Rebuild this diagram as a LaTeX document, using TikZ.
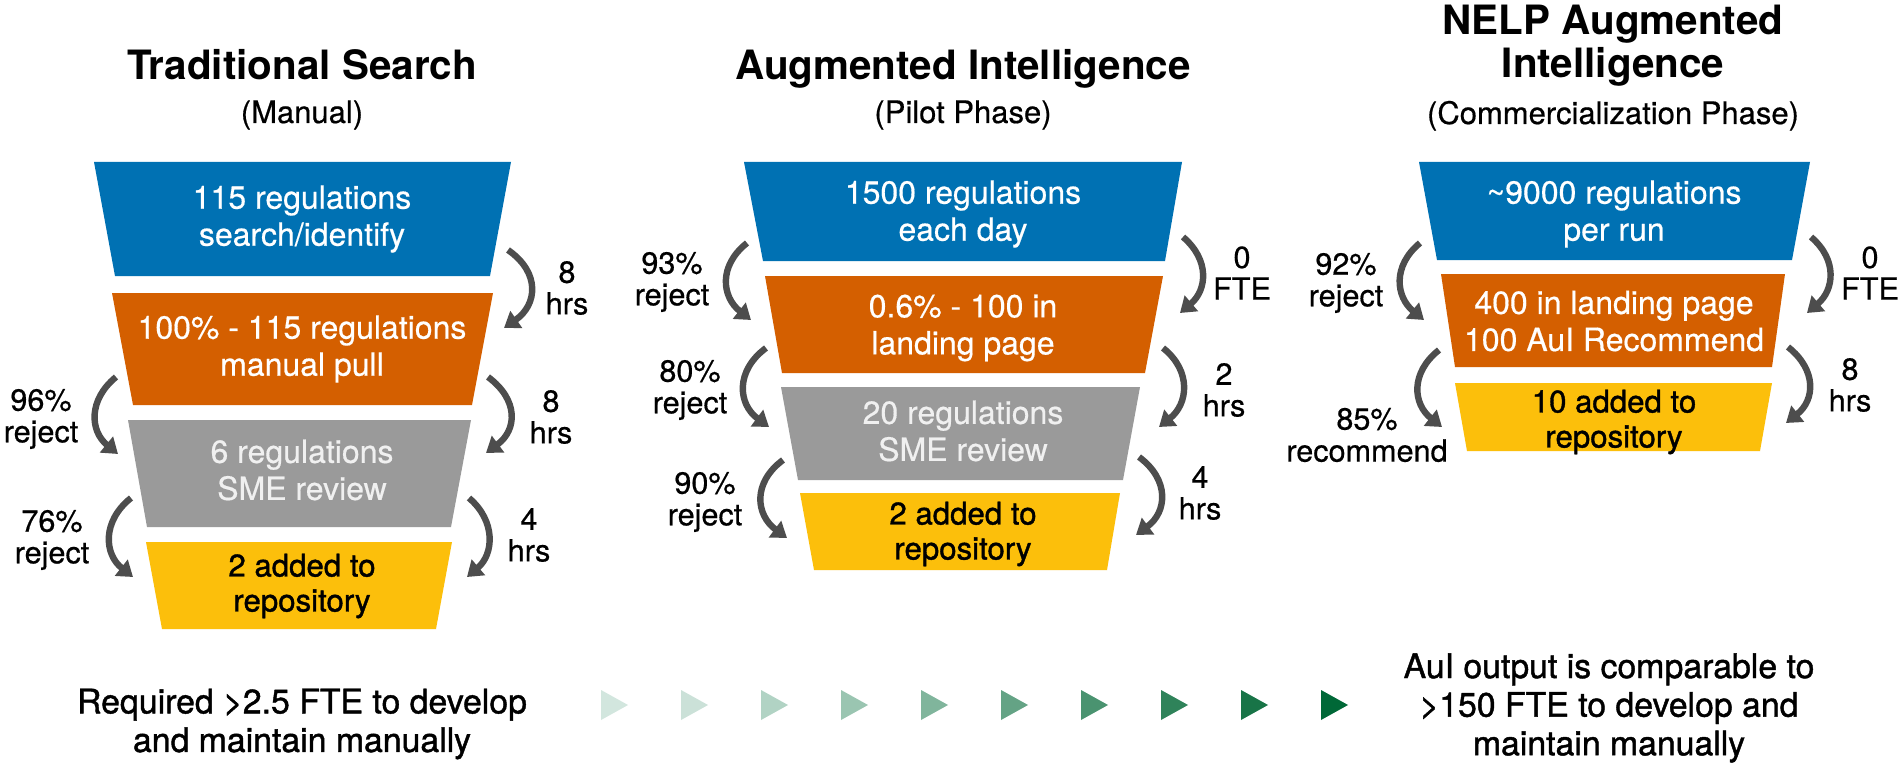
\documentclass[tikz,border=0pt]{standalone}
\usepackage{fontspec}
\setmainfont{TeX Gyre Heros}
\newfontfamily\medfont[FakeBold=1.2]{TeX Gyre Heros}
\newfontfamily\regfont[FakeBold=0.5]{TeX Gyre Heros}
\usetikzlibrary{arrows.meta}
\definecolor{boxblue}{HTML}{0071B3}
\definecolor{boxorange}{HTML}{D45F00}
\definecolor{boxgray}{HTML}{9A9A9A}
\definecolor{boxyellow}{HTML}{FCBF0B}
\definecolor{arrowgray}{HTML}{4D4D4D}
\definecolor{graytext}{HTML}{F0F0F0}
\definecolor{triA}{HTML}{D2E6DE}
\definecolor{triB}{HTML}{CBE1D8}
\definecolor{triC}{HTML}{B1D3C4}
\definecolor{triD}{HTML}{9AC5B1}
\definecolor{triE}{HTML}{80B59C}
\definecolor{triF}{HTML}{64A385}
\definecolor{triG}{HTML}{4A9370}
\definecolor{triH}{HTML}{2F835A}
\definecolor{triI}{HTML}{187447}
\definecolor{triJ}{HTML}{006837}
\tikzset{
  titletxt/.style={font=\bfseries\fontsize{20.2}{22}\selectfont, anchor=base, inner sep=0pt},
  subtxt/.style={font=\regfont\fontsize{15.5}{18}\selectfont, anchor=base, inner sep=0pt},
  boxtxt/.style={font=\regfont\fontsize{16}{18.5}\selectfont, align=center, text=white, inner sep=0pt},
  darkboxtxt/.style={font=\medfont\fontsize{15.6}{17.5}\selectfont, align=center, text=black, inner sep=0pt},
  lbl/.style={font=\regfont\fontsize{15.3}{15.8}\selectfont, align=center, inner sep=0pt},
  notetxt/.style={font=\medfont\fontsize{16.9}{19.3}\selectfont, align=center, inner sep=0pt},
  flow/.style={line width=3.2pt, draw=arrowgray, -{Triangle[width=10pt,length=7.5pt]}}
}
\newcommand{\bendarrow}[3]{\draw[flow] (#1) .. controls ([shift={(#3,23)}]#1) and ([shift={(#3,-23)}]#2) .. (#2);}
\begin{document}
\begin{tikzpicture}[x=0.5pt,y=-0.5pt]
\fill[white] (0,0) rectangle (1902,765);
\useasboundingbox (0,0) rectangle (1902,765);

% ---------- titles ----------
\node[titletxt] (t1) at (302,80) {Traditional Search};
\node[subtxt] (s1) at (302,123) {(Manual)};
\node[titletxt] (t2) at (963,80) {Augmented Intelligence};
\node[subtxt] (s2) at (963,123) {(Pilot Phase)};
\node[titletxt] (t3a) at (1613,35) {NELP Augmented};
\node[titletxt] (t3b) at (1613,78) {Intelligence};
\node[subtxt] (s3) at (1613,124) {(Commercialization Phase)};

% ---------- left funnel ----------
\fill[boxblue] (94,162) -- (511,162) -- (490,276) -- (115,276) -- cycle;
\fill[boxorange] (112,293) -- (493,293) -- (472,405) -- (133,405) -- cycle;
\fill[boxgray] (128,420) -- (471,420) -- (451,527) -- (147,527) -- cycle;
\fill[boxyellow] (146,542) -- (452,542) -- (436,629) -- (162,629) -- cycle;
\node[boxtxt] (b1) at (302,219) {115 regulations\\search/identify};
\node[boxtxt] (o1) at (302,349) {100\% - 115 regulations\\manual pull};
\node[boxtxt, text=graytext] (g1) at (302,470) {6 regulations\\SME review};
\node[darkboxtxt] (y1) at (302,586) {2 added to\\repository};

\coordinate (aR1s) at (508,250); \coordinate (aR1e) at (504,328);
\coordinate (aL1s) at (116,377); \coordinate (aL1e) at (118,454);
\coordinate (aR2s) at (488,377); \coordinate (aR2e) at (486,453);
\coordinate (aL2s) at (131,498); \coordinate (aL2e) at (133,577);
\coordinate (aR3s) at (469,498); \coordinate (aR3e) at (467,577);
\bendarrow{aR1s}{aR1e}{33}
\bendarrow{aL1s}{aL1e}{-28}
\bendarrow{aR2s}{aR2e}{31}
\bendarrow{aL2s}{aL2e}{-29}
\bendarrow{aR3s}{aR3e}{27}
\node[lbl] (la1) at (567,288) {8\\hrs};
\node[lbl] (la2) at (41,419) {96\%\\reject};
\node[lbl] (la3) at (551,417) {8\\hrs};
\node[lbl] (la4) at (52,540) {76\%\\reject};
\node[lbl] (la5) at (529,535) {4\\hrs};

% ---------- middle funnel ----------
\fill[boxblue] (744,162) -- (1182,162) -- (1165,261) -- (763,261) -- cycle;
\fill[boxorange] (765,276) -- (1163,276) -- (1145,373) -- (782,373) -- cycle;
\fill[boxgray] (781,387) -- (1140,387) -- (1123,480) -- (798,480) -- cycle;
\fill[boxyellow] (800,493) -- (1120,493) -- (1107,570) -- (814,570) -- cycle;
\node[boxtxt] (b2) at (963,214) {1500 regulations\\each day};
\node[boxtxt] (o2) at (963,328) {0.6\% - 100 in\\landing page};
\node[boxtxt, text=graytext] (g2) at (963,431) {20 regulations\\SME review};
\node[darkboxtxt] (y2) at (963,534) {2 added to\\repository};

\coordinate (mL1s) at (747,243); \coordinate (mL1e) at (751,320);
\coordinate (mR1s) at (1183,237); \coordinate (mR1e) at (1180,313);
\coordinate (mL2s) at (766,348); \coordinate (mL2e) at (769,427);
\coordinate (mR2s) at (1163,348); \coordinate (mR2e) at (1159,427);
\coordinate (mL3s) at (783,460); \coordinate (mL3e) at (787,538);
\coordinate (mR3s) at (1139,457); \coordinate (mR3e) at (1136,535);
\bendarrow{mL1s}{mL1e}{-29}
\bendarrow{mR1s}{mR1e}{27}
\bendarrow{mL2s}{mL2e}{-31}
\bendarrow{mR2s}{mR2e}{29}
\bendarrow{mL3s}{mL3e}{-31}
\bendarrow{mR3s}{mR3e}{31}
\node[lbl] (lm1) at (672,282) {93\%\\reject};
\node[lbl] (lm2) at (1242,273) {0\\FTE};
\node[lbl] (lm3) at (690,390) {80\%\\reject};
\node[lbl] (lm4) at (1224,390) {2\\hrs};
\node[lbl] (lm5) at (705,502) {90\%\\reject};
\node[lbl] (lm6) at (1200,493) {4\\hrs};

% ---------- right funnel ----------
\fill[boxblue] (1419,162) -- (1810,162) -- (1792,260) -- (1437,260) -- cycle;
\fill[boxorange] (1441,274) -- (1785,274) -- (1772,367) -- (1455,367) -- cycle;
\fill[boxyellow] (1455,383) -- (1772,383) -- (1760,451) -- (1467,451) -- cycle;
\node[boxtxt] (b3) at (1614,214) {\textasciitilde 9000 regulations\\per run};
\node[boxtxt] (o3) at (1614,321) {400 in landing page\\100 AuI Recommend};
\node[darkboxtxt] (y3) at (1614,422) {10 added to\\repository};

\coordinate (rL1s) at (1420,243); \coordinate (rL1e) at (1424,320);
\coordinate (rR1s) at (1811,237); \coordinate (rR1e) at (1807,313);
\coordinate (rL2s) at (1439,350); \coordinate (rL2e) at (1442,427);
\coordinate (rR2s) at (1788,347); \coordinate (rR2e) at (1786,423);
\bendarrow{rL1s}{rL1e}{-28}
\bendarrow{rR1s}{rR1e}{27}
\bendarrow{rL2s}{rL2e}{-29}
\bendarrow{rR2s}{rR2e}{29}
\node[lbl] (lr1) at (1346,283) {92\%\\reject};
\node[lbl] (lr2) at (1870,273) {0\\FTE};
\node[lbl, font=\regfont\fontsize{15.3}{16}\selectfont] (lr3) at (1367,435) {85\%\\recommend};
\node[lbl] (lr4) at (1850,385) {8\\hrs};

% ---------- bottom row ----------
\node[notetxt] (n1) at (302,724) {Required >2.5 FTE to develop\\and maintain manually};
\node[notetxt] (n2) at (1609,708) {AuI output is comparable to\\>150 FTE to develop and\\maintain manually};
\foreach \i/\c in {0/triA,1/triB,2/triC,3/triD,4/triE,5/triF,6/triG,7/triH,8/triI,9/triJ}{
  \fill[\c] ({601+80*\i},690) -- ({628+80*\i},705) -- ({601+80*\i},720) -- cycle;
}
\end{tikzpicture}
\end{document}
